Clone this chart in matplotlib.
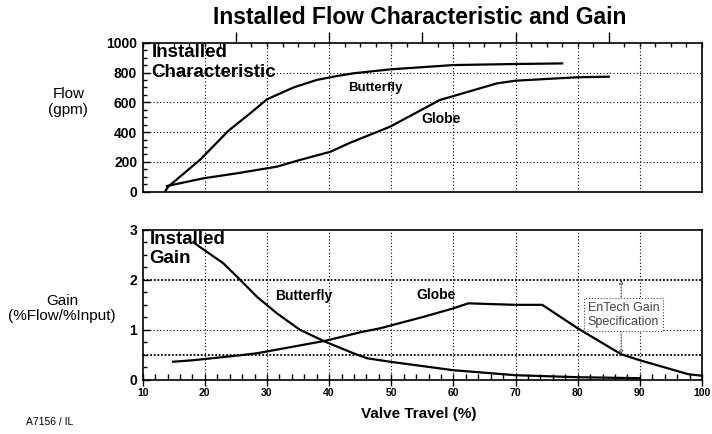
import numpy as np
from matplotlib import pyplot as plt
from matplotlib.ticker import MultipleLocator, FixedLocator

plt.rcParams['font.family'] = ['Liberation Sans', 'DejaVu Sans']

# datos
flujoMarX = [13.6, 14.1, 19.2, 23.8, 27.3, 30, 34.3, 38.0, 41.2, 44, 49.8, 60, 70, 77.5]
flujoMarY = [0, 34, 213, 409, 526, 620, 700, 750, 776, 795, 821, 850, 857, 861]

flujoGloX = [13.9, 19.8, 25.1, 31.6, 35.3, 40.2, 43.4, 49.8, 57.8, 67, 70, 79.9, 85]
flujoGloY = [38, 90, 123, 168, 213, 268, 329, 436, 615, 727, 745, 768, 772]

gananciaMarX = [18.2, 18.4, 23.0, 25.7, 28.4, 31.6, 35.3, 39.4, 43.9, 46.1, 49.8, 60, 70, 80, 90]
gananciaMarY = [2.76, 2.73, 2.33, 2.0, 1.66, 1.33, 1.0, 0.76, 0.53, 0.43, 0.36, 0.19, 0.09, 0.05, 0.03]

gananciaGloX = [14.9, 18.1, 25.7, 28.4, 39.4, 45, 48.2, 55.2, 60, 62.4, 70, 74.3, 80, 87, 90, 97.8, 100]
gananciaGloY = [0.36, 0.39, 0.49, 0.53, 0.78, 0.95, 1.03, 1.26, 1.43, 1.53, 1.50, 1.50, 1.03, 0.51, 0.39, 0.11, 0.08]

gridX = [20, 30, 40, 50, 60, 70, 80, 90]
gridFlujo = [200, 400, 600, 800]
ticksArriba = [25, 40, 55, 70, 85]
limitesGanancia = [0.5, 2.0]

fig = plt.figure(figsize=(7.12, 4.34), dpi=100)
ax1 = fig.add_axes([0.2004, 0.5583, 0.7855, 0.3433])
ax2 = fig.add_axes([0.2004, 0.1251, 0.7855, 0.345])

for ax in (ax1, ax2):
    for s in ax.spines.values():
        s.set_linewidth(1.2)
    for gx in gridX:
        ax.axvline(gx, color='black', linestyle=(0, (1, 2)), linewidth=0.8, zorder=1)
    ax.set_xlim(10, 100)

# grafica de flujo
for gy in gridFlujo:
    ax1.axhline(gy, color='black', linestyle=(0, (1, 2)), linewidth=0.8, zorder=1)
ax1.plot(flujoMarX, flujoMarY, color='black', linewidth=1.6, zorder=3)
ax1.plot(flujoGloX, flujoGloY, color='black', linewidth=1.6, zorder=3)
ax1.set_ylim(0, 1000)
ax1.yaxis.set_major_locator(MultipleLocator(200))
ax1.yaxis.set_minor_locator(MultipleLocator(50))
ax1.xaxis.set_major_locator(FixedLocator(ticksArriba))
ax1.xaxis.set_minor_locator(MultipleLocator(2.5))
ax1.tick_params(axis='x', which='major', top=True, bottom=False, direction='out',
                length=8, width=1, labelbottom=False, labeltop=False)
ax1.tick_params(axis='x', which='minor', top=True, bottom=False, direction='in',
                length=3, width=1)
ax1.tick_params(axis='y', which='major', direction='in', length=5, width=1, labelsize=10, pad=4)
ax1.tick_params(axis='y', which='minor', direction='in', length=3, width=1)
for t in ax1.get_yticklabels():
    t.set_fontweight('bold')

ax1.text(0.016, 0.99, 'Installed\nCharacteristic', transform=ax1.transAxes,
         fontsize=13.5, fontweight='bold', va='top', ha='left', linespacing=1.2)
ax1.text(43.1, 694, 'Butterfly', fontsize=9.5, fontweight='bold', va='center', ha='left')
ax1.text(54.9, 488, 'Globe', fontsize=10, fontweight='bold', va='center', ha='left')

# grafica de ganancia
ax2.axhline(1.0, color='black', linestyle=(0, (1, 2)), linewidth=0.8, zorder=1)
for gy in limitesGanancia:
    ax2.axhline(gy, color='black', linestyle=(0, (1, 1)), linewidth=1.3, zorder=2)
ax2.plot(gananciaMarX, gananciaMarY, color='black', linewidth=1.6, zorder=3)
ax2.plot(gananciaGloX, gananciaGloY, color='black', linewidth=1.6, zorder=3)
ax2.set_ylim(0, 3)
ax2.yaxis.set_major_locator(MultipleLocator(1))
ax2.yaxis.set_minor_locator(MultipleLocator(0.25))
ax2.xaxis.set_major_locator(MultipleLocator(10))
ax2.xaxis.set_minor_locator(MultipleLocator(2))
ax2.tick_params(axis='x', which='major', direction='inout', length=8, width=1, labelsize=7.5, pad=2)
ax2.tick_params(axis='x', which='minor', direction='in', length=4, width=1)
ax2.tick_params(axis='y', which='major', direction='in', length=5, width=1, labelsize=10, pad=4)
ax2.tick_params(axis='y', which='minor', direction='in', length=3, width=1)
for t in ax2.get_yticklabels() + ax2.get_xticklabels():
    t.set_fontweight('bold')

ax2.text(0.012, 0.995, 'Installed\nGain', transform=ax2.transAxes,
         fontsize=13.5, fontweight='bold', va='top', ha='left', linespacing=1.2)
ax2.text(31.3, 1.67, 'Butterfly', fontsize=10, fontweight='bold', va='center', ha='left')
ax2.text(54.1, 1.70, 'Globe', fontsize=10, fontweight='bold', va='center', ha='left')

ax2.annotate('', xy=(87, 0.5), xytext=(87, 2.0),
             arrowprops=dict(arrowstyle='<->', linestyle=':', linewidth=0.8, color='#333333',
                             shrinkA=0, shrinkB=0, mutation_scale=6), zorder=4)
ax2.text(81.6, 1.30, 'EnTech Gain\nSpecification', fontsize=9, color='#444444',
         va='center', ha='left', linespacing=1.2, zorder=5,
         bbox=dict(boxstyle='square,pad=0.3', facecolor='white', edgecolor='#444444',
                   linestyle=':', linewidth=0.8))

# textos de la figura
fig.text(0.590, 0.945, 'Installed Flow Characteristic and Gain', fontsize=16.5,
         fontweight='bold', ha='center', va='baseline')
fig.text(0.096, 0.765, 'Flow\n(gpm)', fontsize=11, ha='center', va='center', linespacing=1.1)
fig.text(0.087, 0.290, 'Gain\n(%Flow/%Input)', fontsize=11, ha='center', va='center', linespacing=1.1)
fig.text(0.588, 0.046, 'Valve Travel (%)', fontsize=11, fontweight='bold', ha='center', va='center')
fig.text(0.070, 0.028, 'A7156 / IL', fontsize=7.5, ha='center', va='center')

plt.savefig('out.png', dpi=100)
